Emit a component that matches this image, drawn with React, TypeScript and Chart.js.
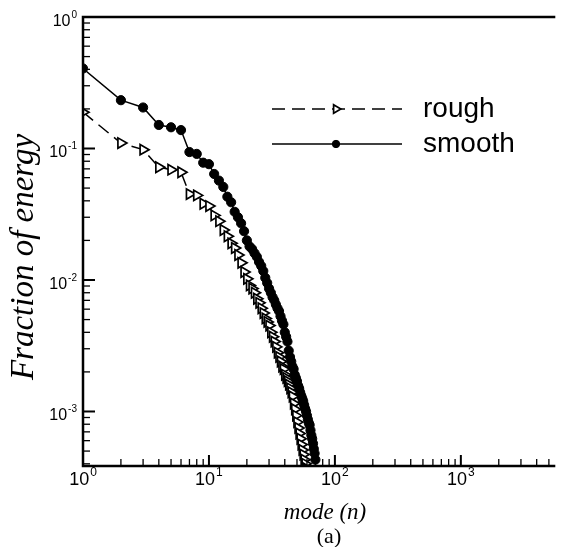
import React, { useEffect, useRef } from 'react';
import { Chart, registerables } from 'chart.js';

Chart.register(...registerables);

// Mode numbers
const modes: number[] = Array.from({ length: 70 }, (_, i) => i + 1);

// Fraction of energy, smooth case (n = 1..70)
const smoothValues: number[] = [
  0.406, 0.233, 0.205, 0.151, 0.145, 0.138, 0.094, 0.091, 0.078, 0.076,
  0.064, 0.057, 0.051, 0.043, 0.039, 0.033, 0.030, 0.027, 0.0235, 0.020,
  0.018, 0.0172, 0.016, 0.015, 0.0137, 0.0128, 0.0117, 0.0104, 0.0095, 0.0086,
  0.0080, 0.0074, 0.0070, 0.0065, 0.0061, 0.0058, 0.0053, 0.0049, 0.0046, 0.0040,
  0.0037, 0.0034, 0.0029, 0.0026, 0.0024, 0.0022, 0.0021, 0.0019, 0.0018, 0.0017,
  0.00157, 0.0015, 0.0014, 0.00132, 0.00126, 0.0012, 0.00112, 0.00105, 0.001, 0.00093,
  0.00087, 0.00082, 0.00079, 0.00072, 0.00066, 0.00062, 0.00057, 0.00052, 0.00048, 0.00043,
];

// Fraction of energy, rough case (n = 1..61)
const roughValues: number[] = [
  0.189, 0.110, 0.098, 0.072, 0.069, 0.066, 0.045, 0.044, 0.038, 0.0365,
  0.031, 0.028, 0.024, 0.0215, 0.019, 0.0175, 0.0155, 0.0135, 0.0115, 0.0102,
  0.0091, 0.0086, 0.0080, 0.0072, 0.0067, 0.0061, 0.0056, 0.0051, 0.0048, 0.0045,
  0.0040, 0.0037, 0.0034, 0.0031, 0.0028, 0.0026, 0.0024, 0.0022, 0.0021, 0.0019,
  0.0018, 0.0017, 0.0016, 0.0015, 0.0014, 0.0013, 0.00115, 0.00104, 0.00093, 0.00083,
  0.00075, 0.00068, 0.00062, 0.00056, 0.00051, 0.00047, 0.00043, 0.0004, 0.00037, 0.00034,
  0.00031,
];

const xTickExponents: number[] = [0, 1, 2, 3];
const yTickExponents: number[] = [-3, -2, -1, 0];
const seriesLabels: string[] = ['rough', 'smooth'];
const xTitle = 'mode (n)';
const yTitle = 'Fraction of energy';
const caption = '(a)';

const X_MIN = 1;
const X_MAX = 5420;
const Y_MIN = 3.85e-4;
const Y_MAX = 1;

const SANS = '"Liberation Sans", Arial, Helvetica, sans-serif';
const SERIF = '"Liberation Serif", "Times New Roman", serif';

function drawPow(
  ctx: CanvasRenderingContext2D,
  exp: number,
  x: number,
  baseline: number,
  align: 'center' | 'right',
  baseSize: number,
  supSize: number
) {
  const base = '10';
  const sup = String(exp);
  ctx.font = `${baseSize}px ${SANS}`;
  const wb = ctx.measureText(base).width;
  ctx.font = `${supSize}px ${SANS}`;
  const ws = ctx.measureText(sup).width;
  const total = wb + ws + 1;
  const left = align === 'center' ? x - total / 2 : x - total;
  ctx.textAlign = 'left';
  ctx.textBaseline = 'alphabetic';
  ctx.font = `${baseSize}px ${SANS}`;
  ctx.fillText(base, left, baseline);
  ctx.font = `${supSize}px ${SANS}`;
  ctx.fillText(sup, left + wb + 1, baseline - baseSize * 0.5);
}

function drawMarker(ctx: CanvasRenderingContext2D, ds: any, x: number, y: number, scale: number) {
  const r = ds.pointRadius * scale;
  ctx.save();
  ctx.lineWidth = ds.pointBorderWidth;
  ctx.strokeStyle = ds.pointBorderColor;
  ctx.fillStyle = ds.pointBackgroundColor;
  ctx.beginPath();
  if (ds.pointStyle === 'triangle') {
    let rad = ((ds.pointRotation || 0) * Math.PI) / 180;
    ctx.moveTo(x + Math.sin(rad) * r, y - Math.cos(rad) * r);
    rad += (2 * Math.PI) / 3;
    ctx.lineTo(x + Math.sin(rad) * r, y - Math.cos(rad) * r);
    rad += (2 * Math.PI) / 3;
    ctx.lineTo(x + Math.sin(rad) * r, y - Math.cos(rad) * r);
    ctx.closePath();
  } else {
    ctx.arc(x, y, r, 0, Math.PI * 2);
  }
  ctx.fill();
  ctx.stroke();
  ctx.restore();
}

const framePlugin = {
  id: 'framePlugin',
  afterDraw(chart: any) {
    const ctx: CanvasRenderingContext2D = chart.ctx;
    const { left, right, top, bottom } = chart.chartArea;
    const xs = chart.scales.x;
    const ys = chart.scales.y;
    ctx.save();
    ctx.strokeStyle = '#000';
    ctx.fillStyle = '#000';

    // frame: left, bottom, top
    ctx.lineWidth = 2.5;
    ctx.beginPath();
    ctx.moveTo(right + 2, top);
    ctx.lineTo(left, top);
    ctx.lineTo(left, bottom);
    ctx.lineTo(right + 2, bottom);
    ctx.stroke();

    // x ticks (inward)
    for (let e = 0; e <= 4; e++) {
      for (let m = 1; m <= 9; m++) {
        const v = m * Math.pow(10, e);
        if (v < X_MIN || v > X_MAX) continue;
        const px = xs.getPixelForValue(v);
        const len = m === 1 ? 11 : 7;
        ctx.lineWidth = m === 1 ? 2 : 1.3;
        ctx.beginPath();
        ctx.moveTo(px, bottom);
        ctx.lineTo(px, bottom - len);
        ctx.stroke();
      }
    }
    // y ticks (inward)
    for (let e = -4; e <= 0; e++) {
      for (let m = 1; m <= 9; m++) {
        const v = m * Math.pow(10, e);
        if (v < Y_MIN || v > Y_MAX) continue;
        const py = ys.getPixelForValue(v);
        const len = m === 1 ? 12 : 7;
        ctx.lineWidth = m === 1 ? 2 : 1.3;
        ctx.beginPath();
        ctx.moveTo(left, py);
        ctx.lineTo(left + len, py);
        ctx.stroke();
      }
    }

    // tick labels
    xTickExponents.forEach((e) => {
      const px = xs.getPixelForValue(Math.pow(10, e));
      drawPow(ctx, e, px, bottom + 19, 'center', 18, 12);
    });
    yTickExponents.forEach((e) => {
      const py = ys.getPixelForValue(Math.pow(10, e));
      drawPow(ctx, e, left - 6, py + 9, 'right', 16, 10);
    });

    // axis titles
    ctx.font = `italic 23px ${SERIF}`;
    ctx.textAlign = 'center';
    ctx.textBaseline = 'alphabetic';
    ctx.fillText(xTitle, 325, bottom + 53);
    ctx.font = `22px ${SERIF}`;
    ctx.fillText(caption, 329, bottom + 77);

    ctx.save();
    ctx.translate(33, 257);
    ctx.rotate(-Math.PI / 2);
    ctx.font = `italic 33px ${SERIF}`;
    ctx.fillText(yTitle, 0, 0);
    ctx.restore();

    // legend
    const rows = [
      { y: 109, ds: chart.data.datasets[0] },
      { y: 144, ds: chart.data.datasets[1] },
    ];
    rows.forEach((row) => {
      const ds = row.ds;
      ctx.save();
      ctx.strokeStyle = '#000';
      ctx.lineWidth = ds.borderWidth;
      ctx.setLineDash(ds.borderDash || []);
      ctx.beginPath();
      ctx.moveTo(272, row.y);
      ctx.lineTo(402, row.y);
      ctx.stroke();
      ctx.restore();
      drawMarker(ctx, ds, 336, row.y, 0.8);
      ctx.fillStyle = '#000';
      ctx.font = `28px ${SANS}`;
      ctx.textAlign = 'left';
      ctx.textBaseline = 'alphabetic';
      ctx.fillText(ds.label, 423, row.y + 8);
    });
    ctx.restore();
  },
};

export default function App() {
  const canvasRef = useRef<HTMLCanvasElement | null>(null);

  useEffect(() => {
    if (!canvasRef.current) return;
    const roughData = roughValues.map((v, i) => ({ x: modes[i], y: v }));
    const smoothData = smoothValues.map((v, i) => ({ x: modes[i], y: v }));
    const chart = new Chart(canvasRef.current, {
      type: 'line',
      data: {
        datasets: [
          {
            label: seriesLabels[0],
            data: roughData,
            borderColor: '#000',
            backgroundColor: '#fff',
            borderWidth: 1.5,
            borderDash: [13, 7],
            pointStyle: 'triangle',
            pointRotation: 90,
            pointRadius: 6,
            pointBorderWidth: 1.7,
            pointBorderColor: '#000',
            pointBackgroundColor: '#fff',
            tension: 0,
          },
          {
            label: seriesLabels[1],
            data: smoothData,
            borderColor: '#000',
            backgroundColor: '#000',
            borderWidth: 1.5,
            pointStyle: 'circle',
            pointRadius: 4.6,
            pointBorderWidth: 1,
            pointBorderColor: '#000',
            pointBackgroundColor: '#000',
            tension: 0,
          },
        ],
      },
      options: {
        animation: false,
        responsive: false,
        devicePixelRatio: 1,
        layout: { padding: { left: 83, right: 0, top: 17, bottom: 81 } },
        scales: {
          x: { type: 'logarithmic', min: X_MIN, max: X_MAX, display: false },
          y: { type: 'logarithmic', min: Y_MIN, max: Y_MAX, display: false },
        },
        plugins: {
          legend: { display: false },
          tooltip: { enabled: false },
        },
      },
      plugins: [framePlugin],
    });
    return () => chart.destroy();
  }, []);

  return (
    <div style={{ position: 'fixed', left: 0, top: 0, width: 561, height: 547, background: '#fff' }}>
      <canvas ref={canvasRef} width={561} height={547} style={{ display: 'block' }} />
    </div>
  );
}
